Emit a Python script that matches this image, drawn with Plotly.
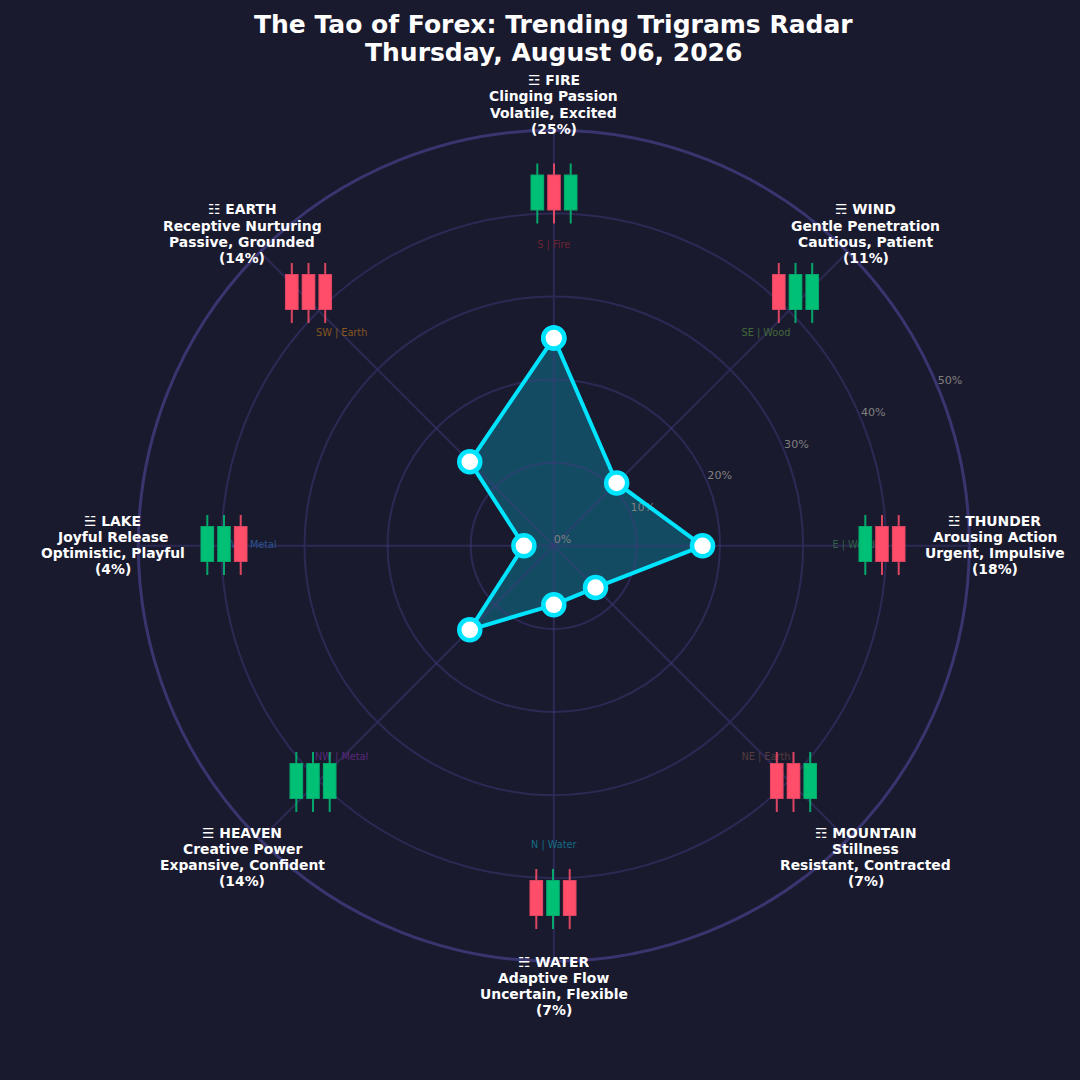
import math
import plotly.graph_objects as go

# ---------- data ----------
TITLE_LINES = ["The Tao of Forex: Trending Trigrams Radar", "Thursday, August 06, 2026"]
TRIGRAMS = ["FIRE", "WIND", "THUNDER", "MOUNTAIN", "WATER", "HEAVEN", "LAKE", "EARTH"]
GLYPHS = ["☲", "☴", "☳", "☶", "☵", "☰", "☱", "☷"]
QUALITIES = ["Clinging Passion", "Gentle Penetration", "Arousing Action", "Stillness",
             "Adaptive Flow", "Creative Power", "Joyful Release", "Receptive Nurturing"]
MOODS = ["Volatile, Excited", "Cautious, Patient", "Urgent, Impulsive", "Resistant, Contracted",
         "Uncertain, Flexible", "Expansive, Confident", "Optimistic, Playful", "Passive, Grounded"]
VALUES = [25.0, 10.7, 17.9, 7.1, 7.1, 14.3, 3.6, 14.3]
PERCENT_LABELS = ["25%", "11%", "18%", "7%", "7%", "14%", "4%", "14%"]
DIRECTIONS = ["S | Fire", "SE | Wood", "E | Wood", "NE | Earth",
              "N | Water", "NW | Metal", "W | Metal", "SW | Earth"]
RADIAL_TICKS = [0, 10, 20, 30, 40, 50]
# 1 = rising candle, 0 = falling candle, three per trigram
CANDLE_UP = [[1, 0, 1], [0, 1, 1], [1, 0, 0], [0, 0, 1],
             [0, 1, 0], [1, 1, 1], [1, 1, 0], [0, 0, 0]]
CANDLE_HIGH = [1.35, 1.35, 1.35]
CANDLE_LOW = [-0.41, -0.41, -0.41]

# ---------- style and layout ----------
BG = "#1a1a2e"
GRID = "#2c2a55"
GRID_OVER_FILL = "rgba(62,58,124,0.5)"
OUTER = "#38356f"
CYAN = "#00e5ff"
GREEN = "#00c076"
RED = "#ff4d6a"
FONT = "DejaVu Sans"
DIRECTION_COLORS = ["#6b2433", "#41683a", "#2f6348", "#553d3f",
                    "#136c82", "#58287a", "#28548f", "#85561f"]
CX, CY, UNIT, SIZE = 553.8, 545.8, 8.31, 1080.0
BODY_PX, PITCH_PX = 34.0, 16.7
CANDLE_CENTRES = [(554, 192.5), (795.5, 292), (882, 544), (793.5, 781),
                  (553, 898), (313, 781), (224, 544), (308.5, 292)]
THETAS = [0, 45, 90, 135, 180, 225, 270, 315]      # clockwise from the top
RADIAL_LABEL_THETA = 67.5
LABEL_R, DIRECTION_R = 53.05, 36.1
INNER_GRID_END = 25
LINE_PX = 16.1
LABEL_NUDGE_PX = 0.5


def page_xy(r, theta):
    a = math.radians(90 - theta)
    return r * math.cos(a), r * math.sin(a)


fig = go.Figure()

# direction labels, beneath the candles
dir_xy = [page_xy(DIRECTION_R, t) for t in THETAS]
fig.add_trace(go.Scatter(
    x=[p[0] for p in dir_xy], y=[p[1] for p in dir_xy], mode="text", text=DIRECTIONS,
    textposition="middle center", textfont=dict(family=FONT, size=9.72, color=DIRECTION_COLORS),
    hoverinfo="skip", showlegend=False, cliponaxis=False))

# candlestick insets
layout_axes = {}
half_w, half_h = 1.5 * PITCH_PX, 40.0
for i, (ups, (px, py)) in enumerate(zip(CANDLE_UP, CANDLE_CENTRES)):
    n = i + 2
    fig.add_trace(go.Candlestick(
        x=[0, 1, 2],
        open=[0 if u else 1 for u in ups],
        close=[1 if u else 0 for u in ups],
        high=CANDLE_HIGH, low=CANDLE_LOW,
        increasing=dict(fillcolor=GREEN, line=dict(color="rgba(0,192,118,0.85)", width=2)),
        decreasing=dict(fillcolor=RED, line=dict(color="rgba(255,77,106,0.85)", width=2)),
        whiskerwidth=0, xaxis=f"x{n}", yaxis=f"y{n}", showlegend=False, hoverinfo="skip"))
    layout_axes[f"xaxis{n}"] = dict(
        domain=[(px - half_w) / SIZE, (px + half_w) / SIZE], range=[-0.5, 2.5],
        visible=False, rangeslider=dict(visible=False), anchor=f"y{n}", type="linear", fixedrange=True)
    layout_axes[f"yaxis{n}"] = dict(
        domain=[1 - (py + half_h) / SIZE, 1 - (py - half_h) / SIZE],
        range=[0.5 - half_h / BODY_PX, 0.5 + half_h / BODY_PX],
        visible=False, anchor=f"x{n}", fixedrange=True)

# radar fill, then the inner grid, then the outline, markers and radial labels
fig.add_trace(go.Scatterpolar(
    r=VALUES + VALUES[:1], theta=THETAS + THETAS[:1], mode="none", fill="toself",
    fillcolor="rgba(0,229,255,0.25)", subplot="polar", showlegend=False, hoverinfo="skip"))

spoke_r, spoke_t = [], []
for t in THETAS:
    spoke_r += [0, INNER_GRID_END, None]
    spoke_t += [t, t, None]
fig.add_trace(go.Scatterpolar(
    r=spoke_r, theta=spoke_t, mode="lines", line=dict(color=GRID_OVER_FILL, width=2),
    subplot="polar2", showlegend=False, hoverinfo="skip"))

fig.add_trace(go.Scatterpolar(
    r=RADIAL_TICKS, theta=[RADIAL_LABEL_THETA] * len(RADIAL_TICKS), mode="text",
    text=[f"{t}%" for t in RADIAL_TICKS], textposition="top right",
    textfont=dict(family=FONT, size=11.1, color="#808080"),
    subplot="polar3", showlegend=False, hoverinfo="skip", cliponaxis=False))
fig.add_trace(go.Scatterpolar(
    r=VALUES + VALUES[:1], theta=THETAS + THETAS[:1], mode="lines+markers",
    line=dict(color=CYAN, width=4),
    marker=dict(size=21, color="white", line=dict(color=CYAN, width=4.5)),
    subplot="polar3", showlegend=False, hoverinfo="skip"))

# outer grid beneath the candles, in the same percent units as the radar
shapes = []
for t in RADIAL_TICKS[3:]:
    outer = t == RADIAL_TICKS[-1]
    shapes.append(dict(type="circle", xref="x", yref="y", x0=-t, x1=t, y0=-t, y1=t, layer="below",
                       line=dict(color=OUTER if outer else GRID, width=3 if outer else 2)))
for t in THETAS:
    sx, sy = page_xy(INNER_GRID_END, t)
    ex, ey = page_xy(RADIAL_TICKS[-1], t)
    shapes.append(dict(type="line", xref="x", yref="y", x0=sx, y0=sy, x1=ex, y1=ey, layer="below",
                       line=dict(color=GRID, width=2)))

# trigram labels, line by line
annotations = []
for name, glyph, qual, mood, pct, t in zip(TRIGRAMS, GLYPHS, QUALITIES, MOODS, PERCENT_LABELS, THETAS):
    lx, ly = page_xy(LABEL_R, t)
    lines = [f"{glyph} {name}", qual, mood, f"({pct})"]
    for j, line in enumerate(lines):
        annotations.append(dict(
            x=lx, y=ly, xref="x", yref="y", text=f"<b>{line}</b>", showarrow=False,
            xanchor="center", yanchor="middle", yshift=(1.5 - j) * LINE_PX + LABEL_NUDGE_PX,
            font=dict(family=FONT, size=13.89, color="white")))
for j, line in enumerate(TITLE_LINES):
    annotations.append(dict(
        x=0.5125, y=1 - (24.5 + 28 * j) / SIZE, xref="paper", yref="paper", text=f"<b>{line}</b>",
        showarrow=False, xanchor="center", yanchor="middle",
        font=dict(family=FONT, size=25, color="white")))

polar_domain = dict(x=[(CX - 50 * UNIT) / SIZE, (CX + 50 * UNIT) / SIZE],
                    y=[1 - (CY + 50 * UNIT) / SIZE, 1 - (CY - 50 * UNIT) / SIZE])
hidden_angular = dict(visible=False, direction="clockwise", rotation=90)
hidden_radial = dict(range=[0, RADIAL_TICKS[-1]], visible=False)

fig.update_layout(
    width=1080, height=1080, autosize=False, margin=dict(l=0, r=0, t=0, b=0),
    paper_bgcolor=BG, plot_bgcolor="rgba(0,0,0,0)", showlegend=False, boxgap=0.30, boxgroupgap=0,
    xaxis=dict(domain=[0, 1], range=[-CX / UNIT, (SIZE - CX) / UNIT], visible=False, fixedrange=True),
    yaxis=dict(domain=[0, 1], range=[-(SIZE - CY) / UNIT, CY / UNIT], visible=False, fixedrange=True),
    polar=dict(domain=polar_domain, bgcolor="rgba(0,0,0,0)",
               radialaxis=hidden_radial, angularaxis=hidden_angular),
    polar2=dict(domain=polar_domain, bgcolor="rgba(0,0,0,0)",
                radialaxis=dict(range=[0, RADIAL_TICKS[-1]], visible=True, showline=False,
                                showticklabels=False, ticks="", tickvals=RADIAL_TICKS[1:3],
                                showgrid=True, gridcolor=GRID_OVER_FILL, gridwidth=2),
                angularaxis=hidden_angular),
    polar3=dict(domain=polar_domain, bgcolor="rgba(0,0,0,0)",
                radialaxis=hidden_radial, angularaxis=hidden_angular),
    shapes=shapes, annotations=annotations, **layout_axes)

fig.write_html("out.html", config=dict(displayModeBar=False, staticPlot=True), post_script=(
    "document.documentElement.style.margin='0';document.body.style.margin='0';"
    "document.documentElement.style.overflow='hidden';"
    f"document.documentElement.style.background='{BG}';document.body.style.background='{BG}';"))
